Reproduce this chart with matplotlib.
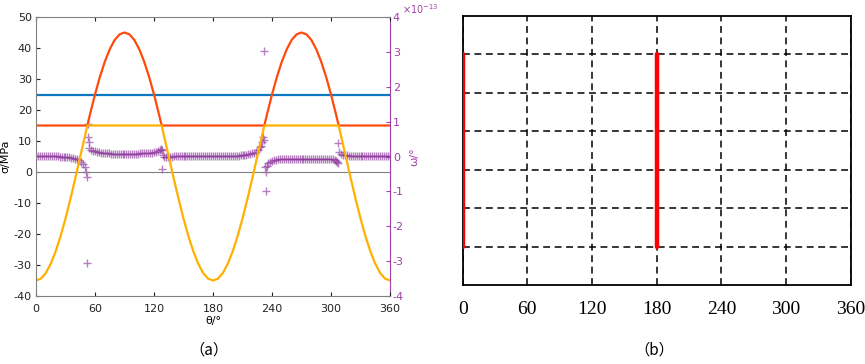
import numpy as np
import matplotlib.pyplot as plt

plt.rcParams['axes.unicode_minus'] = False

# panel (a): stress curves
theta = [0, 5, 10, 15, 20, 25, 30, 35, 40, 45, 50, 52.2, 55, 60, 65, 70, 75, 80, 85, 90,
         95, 100, 105, 110, 115, 120, 125, 127.8, 130, 135, 140, 145, 150, 155, 160, 165, 170, 175, 180,
         185, 190, 195, 200, 205, 210, 215, 220, 225, 230, 232.2, 235, 240, 245, 250, 255, 260, 265, 270,
         275, 280, 285, 290, 295, 300, 305, 307.8, 310, 315, 320, 325, 330, 335, 340, 345, 350, 355, 360]
sigma = [-35, -34.4, -32.6, -29.6, -25.6, -20.7, -15, -8.7, -2.0, 5, 11.9, 15, 18.7, 25, 30.7, 35.6, 39.6, 42.6, 44.4, 45,
         44.4, 42.6, 39.6, 35.6, 30.7, 25, 18.7, 15, 11.9, 5, -2.0, -8.7, -15, -20.7, -25.6, -29.6, -32.6, -34.4, -35,
         -34.4, -32.6, -29.6, -25.6, -20.7, -15, -8.7, -2.0, 5, 11.9, 15, 18.7, 25, 30.7, 35.6, 39.6, 42.6, 44.4, 45,
         44.4, 42.6, 39.6, 35.6, 30.7, 25, 18.7, 15, 11.9, 5, -2.0, -8.7, -15, -20.7, -25.6, -29.6, -32.6, -34.4, -35]
sigma_c = 25   # blue level
sigma_t = 15   # red level

# omega, in units of 1e-13
theta_w = [0, 2, 4, 6, 8, 10, 12, 14, 16, 18, 20, 22, 24, 26, 28, 30, 32, 34, 36, 38, 40, 42, 44, 46, 48, 50,
           51, 51.6, 52.2, 52.4, 53.2, 53.8, 54.4,
           56, 58, 60, 62, 64, 66, 68, 70, 72, 74, 76, 78, 80, 82, 84, 86, 88, 90, 92, 94, 96, 98, 100,
           102, 104, 106, 108, 110, 112, 114, 116, 118, 120, 122, 124, 126,
           127.2, 127.8, 128.4, 129,
           130, 132, 134, 136, 138, 140, 142, 144, 146, 148, 150, 152, 154, 156, 158, 160, 162, 164, 166, 168,
           170, 172, 174, 176, 178, 180, 182, 184, 186, 188, 190, 192, 194, 196, 198, 200,
           202, 204, 206, 208, 210, 212, 214, 216, 218, 220, 222, 224, 226, 228,
           229, 230, 231, 231.6, 232.3, 233.2, 233.6, 234.2, 235,
           236, 238, 240, 242, 244, 246, 248, 250, 252, 254, 256, 258, 260, 262, 264, 266, 268, 270,
           272, 274, 276, 278, 280, 282, 284, 286, 288, 290, 292, 294, 296, 298, 300, 302, 304,
           305, 306.2, 307, 307.6, 308.4,
           310, 312, 314, 316, 318, 320, 322, 324, 326, 328, 330, 332, 334, 336, 338, 340, 342, 344, 346, 348,
           350, 352, 354, 356, 358, 360]
omega = [0.02, 0.02, 0.02, 0.02, 0.02, 0.02, 0.02, 0.01, 0.01, 0.01, 0.01, 0.01, 0.0, 0.0, 0.0, -0.01, -0.01,
         -0.02, -0.03, -0.04, -0.06, -0.08, -0.11, -0.15, -0.21, -0.31,
         -0.45, -0.6, -3.06, 0.93, 0.55, 0.42, 0.25,
         0.2, 0.17, 0.15, 0.13, 0.12, 0.11, 0.1, 0.1, 0.09, 0.09, 0.08, 0.08, 0.08, 0.08, 0.08, 0.08, 0.08, 0.08,
         0.08, 0.08, 0.08, 0.08, 0.08, 0.08, 0.08, 0.09, 0.09, 0.09, 0.09, 0.10, 0.10, 0.11, 0.12, 0.13, 0.15, 0.18,
         0.22, -0.37, 0.19, 0.05,
         -0.02, -0.01, 0.0, 0.0, 0.0, 0.01, 0.01, 0.01, 0.01, 0.01, 0.01, 0.01, 0.01, 0.01, 0.01, 0.01, 0.01,
         0.01, 0.01, 0.01, 0.01, 0.01, 0.01, 0.01, 0.01, 0.01, 0.01, 0.01, 0.01, 0.01, 0.01, 0.01, 0.01, 0.01,
         0.01, 0.01,
         0.02, 0.02, 0.02, 0.03, 0.03, 0.04, 0.05, 0.06, 0.07, 0.09, 0.11, 0.14, 0.18, 0.26,
         0.3, 0.42, 0.57, 0.48, 3.03, -0.3, -0.98, -0.45, -0.26,
         -0.2, -0.15, -0.12, -0.1, -0.09, -0.08, -0.07, -0.07, -0.06, -0.06, -0.06, -0.06, -0.06, -0.06, -0.06,
         -0.06, -0.06, -0.06, -0.06, -0.06, -0.06, -0.06, -0.06, -0.06, -0.06, -0.06, -0.06, -0.06, -0.06, -0.06,
         -0.06, -0.06, -0.07, -0.08, -0.1,
         -0.12, -0.16, -0.2, 0.38, 0.12,
         0.06, 0.05, 0.04, 0.03, 0.02, 0.02, 0.02, 0.02, 0.02, 0.02, 0.02, 0.02, 0.02, 0.02, 0.02, 0.02, 0.02,
         0.02, 0.02, 0.02, 0.02, 0.02, 0.02, 0.02, 0.02, 0.02]

# panel (b)
x_ticks = [0, 60, 120, 180, 240, 300, 360]
red_pos = [0, 180]
red_lo, red_hi = 1, 6

grey = '#808080'
purple = '#A040A8'

fig = plt.figure(figsize=(8.65, 3.64), dpi=100)

# ---------- (a) ----------
ax = fig.add_axes([0.0416, 0.1868, 0.4093, 0.7665])
ax2 = ax.twinx()
ax.set_zorder(ax2.get_zorder() + 1)
ax.patch.set_visible(False)

ax2.plot(theta_w, omega, '+', color='#8E3A9E', alpha=0.65, ms=6, mew=1.0)
ax2.set_ylim(-4, 4)
ax2.set_yticks(range(-4, 5))
ax2.tick_params(axis='y', direction='in', length=3, colors=purple, labelsize=8, pad=2)
ax2.spines['right'].set_color(purple)
for s in ['left', 'top', 'bottom']:
    ax2.spines[s].set_visible(False)
ax2.set_ylabel('ω/°', color=purple, fontsize=8, rotation=90, labelpad=4)
ax2.text(1.033, 1.004, r'$\times10^{-13}$', transform=ax2.transAxes, color=purple,
         fontsize=7, ha='left', va='bottom')

th = np.array(theta)
sg = np.array(sigma)
ax.axhline(0, color=grey, lw=0.8)
ax.axhline(sigma_c, color='#0A78C2', lw=1.6)
ax.plot(th, np.maximum(sg, sigma_t), color='#FF4A0C', lw=1.6)
ax.plot(th, np.minimum(sg, sigma_t), color='#FFB000', lw=1.6)
ax.set_xlim(0, 360)
ax.set_ylim(-40, 50)
ax.set_xticks(x_ticks)
ax.set_yticks(range(-40, 51, 10))
ax.tick_params(direction='in', length=3, labelsize=8, colors='#222222', pad=3,
               top=True)
ax.tick_params(axis='x', pad=6)
for s in ['left', 'top', 'bottom']:
    ax.spines[s].set_color(grey)
ax.spines['right'].set_visible(False)
ax.set_xlabel('θ/°', fontsize=8, labelpad=1)
ax.set_ylabel('σ/MPa', fontsize=8)
ax.yaxis.set_label_coords(-0.072, 0.5)
fig.text(0.241, 0.015, '（a）', fontsize=11, ha='center', va='bottom',
         family=['Noto Sans CJK SC', 'DejaVu Sans'])

# ---------- (b) ----------
bx = fig.add_axes([0.5349, 0.2157, 0.4486, 0.7412])
bx.set_xlim(0, 360)
bx.set_ylim(0, 7)
bx.set_xticks(x_ticks)
bx.set_yticks([1, 2, 3, 4, 5, 6])
bx.set_yticklabels([])
bx.grid(True, color='black', ls=(0, (4.5, 3)), lw=1.1)
bx.tick_params(length=0, pad=11, labelsize=14)
for lab in bx.get_xticklabels():
    lab.set_family('Liberation Serif')
for s in bx.spines.values():
    s.set_linewidth(1.3)
bx.vlines(red_pos, red_lo, red_hi, colors='#FF0000', lw=3.2, capstyle='round', zorder=3)
fig.text(0.757, 0.015, '（b）', fontsize=11, ha='center', va='bottom',
         family=['Noto Sans CJK SC', 'DejaVu Sans'])

fig.savefig('out.png', dpi=100)
